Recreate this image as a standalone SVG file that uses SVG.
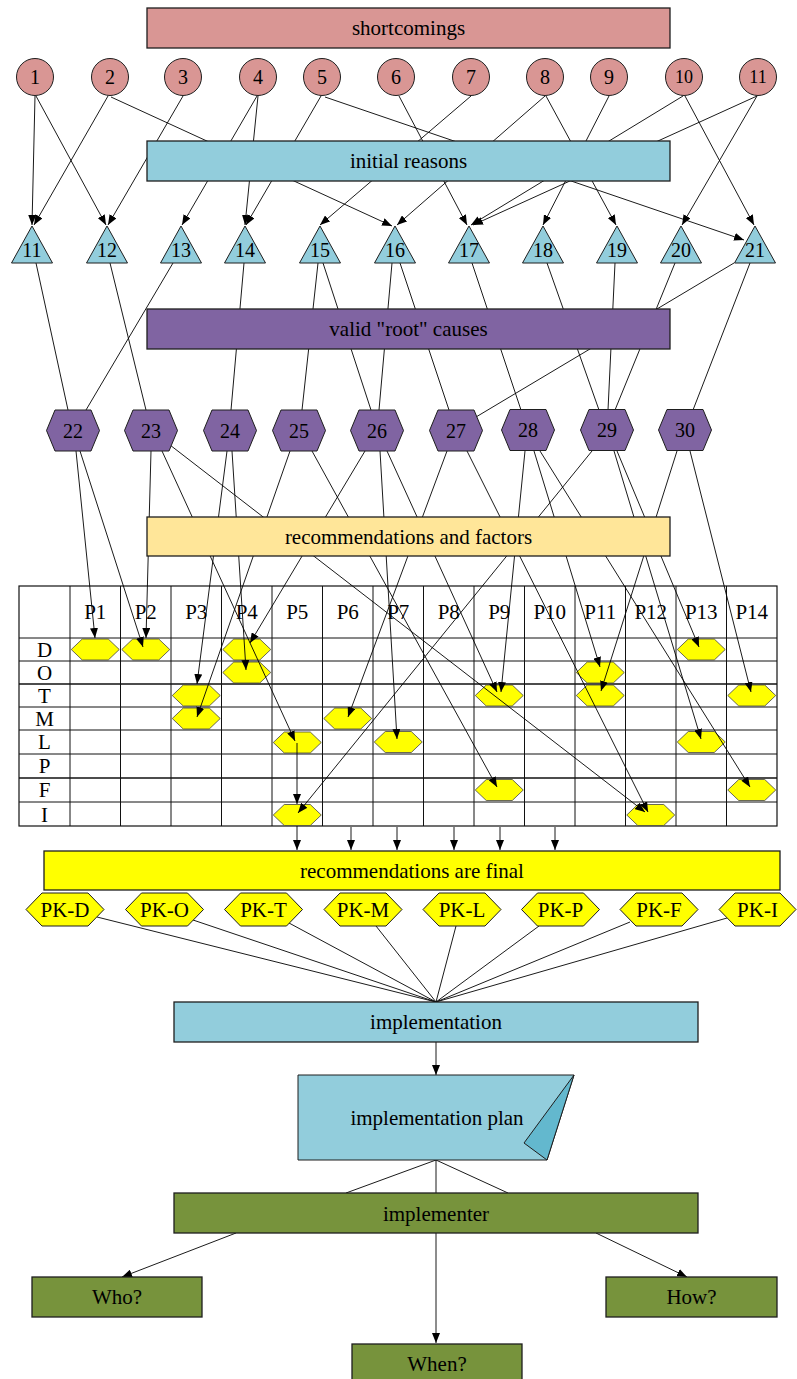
<svg xmlns="http://www.w3.org/2000/svg" width="797" height="1379" viewBox="0 0 797 1379">
<style>
text{font-family:"Liberation Serif","Times New Roman",serif;font-size:21px;fill:#000;text-anchor:middle;dominant-baseline:central}
.n{font-size:20px}
.s{font-size:18px}
.box{stroke:#1e1e1e;stroke-width:1.3}
.pink{fill:#D99694}
.blue{fill:#92CDDC}
.purple{fill:#8064A2}
.peach{fill:#FFE699}
.yellow{fill:#FFFF00}
.green{fill:#77933C}
.nd{stroke:#1e1e1e;stroke-width:1}
.cell{fill:#FFFF00;stroke:#444;stroke-width:0.8}
.grid line{stroke:#111;stroke-width:1}
.c line{stroke:#000;stroke-width:0.9;fill:none}
.c line.a{marker-end:url(#arr)}
</style>
<defs>
<marker id="arr" viewBox="0 0 10 8" refX="10" refY="4" markerWidth="10" markerHeight="8" markerUnits="userSpaceOnUse" orient="auto"><path d="M0,0 L10,4 L0,8 z" fill="#000"/></marker>
</defs>

<!-- table grid -->
<g id="table" class="grid">
<rect x="19" y="586" width="758" height="240" fill="#fff" stroke="#111" stroke-width="1.2"/>
<line x1="70" y1="586" x2="70" y2="826"/>
<line x1="120.5" y1="586" x2="120.5" y2="826"/>
<line x1="171" y1="586" x2="171" y2="826"/>
<line x1="221.5" y1="586" x2="221.5" y2="826"/>
<line x1="272" y1="586" x2="272" y2="826"/>
<line x1="322.5" y1="586" x2="322.5" y2="826"/>
<line x1="373" y1="586" x2="373" y2="826"/>
<line x1="423.5" y1="586" x2="423.5" y2="826"/>
<line x1="474" y1="586" x2="474" y2="826"/>
<line x1="524.5" y1="586" x2="524.5" y2="826"/>
<line x1="575" y1="586" x2="575" y2="826"/>
<line x1="625.5" y1="586" x2="625.5" y2="826"/>
<line x1="676" y1="586" x2="676" y2="826"/>
<line x1="726.5" y1="586" x2="726.5" y2="826"/>
<line x1="19" y1="638" x2="777" y2="638"/>
<line x1="19" y1="661" x2="777" y2="661"/>
<line x1="19" y1="684" x2="777" y2="684" style="stroke-width:1.3"/>
<line x1="19" y1="707" x2="777" y2="707"/>
<line x1="19" y1="730" x2="777" y2="730"/>
<line x1="19" y1="754" x2="777" y2="754"/>
<line x1="19" y1="778" x2="777" y2="778" style="stroke-width:1.5"/>
<line x1="19" y1="802" x2="777" y2="802"/>
<text x="95.25" y="612">P1</text>
<text x="145.75" y="612">P2</text>
<text x="196.25" y="612">P3</text>
<text x="246.75" y="612">P4</text>
<text x="297.25" y="612">P5</text>
<text x="347.75" y="612">P6</text>
<text x="398.25" y="612">P7</text>
<text x="448.75" y="612">P8</text>
<text x="499.25" y="612">P9</text>
<text x="549.75" y="612">P10</text>
<text x="600.25" y="612">P11</text>
<text x="650.75" y="612">P12</text>
<text x="701.25" y="612">P13</text>
<text x="751.75" y="612">P14</text>
<text x="44.5" y="649.5">D</text>
<text x="44.5" y="672.5">O</text>
<text x="44.5" y="695.5">T</text>
<text x="44.5" y="718.5">M</text>
<text x="44.5" y="742">L</text>
<text x="44.5" y="766">P</text>
<text x="44.5" y="790">F</text>
<text x="44.5" y="814.5">I</text>
</g>

<!-- cell hexagons -->
<g id="cells">
<polygon id="D-P1" class="cell" transform="translate(95.25,649.5)" points="-24,0 -13,-10.5 13,-10.5 24,0 13,10.5 -13,10.5"/>
<polygon id="D-P2" class="cell" transform="translate(145.75,649.5)" points="-24,0 -13,-10.5 13,-10.5 24,0 13,10.5 -13,10.5"/>
<polygon id="D-P4" class="cell" transform="translate(246.75,649.5)" points="-24,0 -13,-10.5 13,-10.5 24,0 13,10.5 -13,10.5"/>
<polygon id="D-P13" class="cell" transform="translate(701.25,649.5)" points="-24,0 -13,-10.5 13,-10.5 24,0 13,10.5 -13,10.5"/>
<polygon id="O-P4" class="cell" transform="translate(246.75,672.5)" points="-24,0 -13,-10.5 13,-10.5 24,0 13,10.5 -13,10.5"/>
<polygon id="O-P11" class="cell" transform="translate(600.25,672.5)" points="-24,0 -13,-10.5 13,-10.5 24,0 13,10.5 -13,10.5"/>
<polygon id="T-P3" class="cell" transform="translate(196.25,695.5)" points="-24,0 -13,-10.5 13,-10.5 24,0 13,10.5 -13,10.5"/>
<polygon id="T-P9" class="cell" transform="translate(499.25,695.5)" points="-24,0 -13,-10.5 13,-10.5 24,0 13,10.5 -13,10.5"/>
<polygon id="T-P11" class="cell" transform="translate(600.25,695.5)" points="-24,0 -13,-10.5 13,-10.5 24,0 13,10.5 -13,10.5"/>
<polygon id="T-P14" class="cell" transform="translate(751.75,695.5)" points="-24,0 -13,-10.5 13,-10.5 24,0 13,10.5 -13,10.5"/>
<polygon id="M-P3" class="cell" transform="translate(196.25,718.5)" points="-24,0 -13,-10.5 13,-10.5 24,0 13,10.5 -13,10.5"/>
<polygon id="M-P6" class="cell" transform="translate(347.75,718.5)" points="-24,0 -13,-10.5 13,-10.5 24,0 13,10.5 -13,10.5"/>
<polygon id="L-P5" class="cell" transform="translate(297.25,742.5)" points="-24,0 -13,-10.5 13,-10.5 24,0 13,10.5 -13,10.5"/>
<polygon id="L-P7" class="cell" transform="translate(398.25,742)" points="-24,0 -13,-10.5 13,-10.5 24,0 13,10.5 -13,10.5"/>
<polygon id="L-P13" class="cell" transform="translate(701.25,742)" points="-24,0 -13,-10.5 13,-10.5 24,0 13,10.5 -13,10.5"/>
<polygon id="F-P9" class="cell" transform="translate(499.25,790)" points="-24,0 -13,-10.5 13,-10.5 24,0 13,10.5 -13,10.5"/>
<polygon id="F-P14" class="cell" transform="translate(751.75,790)" points="-24,0 -13,-10.5 13,-10.5 24,0 13,10.5 -13,10.5"/>
<polygon id="I-P5" class="cell" transform="translate(297.25,815)" points="-24,0 -13,-10.5 13,-10.5 24,0 13,10.5 -13,10.5"/>
<polygon id="I-P12" class="cell" transform="translate(650.75,815)" points="-24,0 -13,-10.5 13,-10.5 24,0 13,10.5 -13,10.5"/>
</g>

<!-- connectors -->
<g id="connectors" class="c">
<!-- circles to triangles -->
<line class="a" x1="35" y1="96" x2="32" y2="225"/>
<line class="a" x1="36" y1="96" x2="106" y2="225"/>
<line class="a" x1="108" y1="96" x2="34" y2="225"/>
<line class="a" x1="111" y1="97" x2="392" y2="226"/>
<line class="a" x1="183" y1="96" x2="108" y2="225"/>
<line class="a" x1="257" y1="96" x2="182" y2="225"/>
<line class="a" x1="258" y1="96" x2="245" y2="225"/>
<line class="a" x1="321" y1="96" x2="246" y2="225"/>
<line class="a" x1="325" y1="97" x2="744" y2="240"/>
<line class="a" x1="399" y1="96" x2="467" y2="225"/>
<line class="a" x1="471" y1="96" x2="320" y2="225"/>
<line class="a" x1="545" y1="96" x2="397" y2="225"/>
<line class="a" x1="546" y1="96" x2="616" y2="225"/>
<line class="a" x1="609" y1="96" x2="543" y2="225"/>
<line class="a" x1="683" y1="96" x2="471" y2="225"/>
<line class="a" x1="685" y1="96" x2="754" y2="225"/>
<line class="a" x1="757" y1="96" x2="473" y2="225"/>
<line class="a" x1="757" y1="96" x2="682" y2="225"/>
<!-- triangles to hexagons -->
<line x1="36" y1="263" x2="68" y2="410"/>
<line x1="110" y1="263" x2="146" y2="410"/>
<line x1="173" y1="263" x2="86" y2="410"/>
<line x1="244" y1="263" x2="231" y2="410"/>
<line x1="318" y1="263" x2="302" y2="410"/>
<line x1="323" y1="263" x2="371" y2="410"/>
<line x1="392" y1="263" x2="379" y2="410"/>
<line x1="400" y1="263" x2="449" y2="410"/>
<line x1="472" y1="263" x2="521" y2="410"/>
<line x1="547" y1="263" x2="599" y2="410"/>
<line x1="615" y1="263" x2="608" y2="410"/>
<line x1="675" y1="263" x2="615" y2="410"/>
<line x1="734" y1="263" x2="476" y2="417"/>
<line x1="750" y1="263" x2="693" y2="410"/>
<!-- hexagons to cells -->
<line class="a" x1="76" y1="451" x2="95" y2="638"/>
<line class="a" x1="80" y1="451" x2="143" y2="647"/>
<line class="a" x1="151" y1="451" x2="146" y2="638"/>
<line class="a" x1="162" y1="451" x2="295" y2="741"/>
<line class="a" x1="170" y1="445" x2="645" y2="812"/>
<line class="a" x1="227" y1="451" x2="197" y2="684"/>
<line class="a" x1="232" y1="451" x2="246" y2="670"/>
<line class="a" x1="290" y1="451" x2="197" y2="717"/>
<line class="a" x1="312" y1="451" x2="497" y2="787"/>
<line class="a" x1="365" y1="451" x2="250" y2="643"/>
<line class="a" x1="380" y1="451" x2="397" y2="739"/>
<line class="a" x1="387" y1="451" x2="497" y2="692"/>
<line class="a" x1="447" y1="451" x2="348" y2="717"/>
<line class="a" x1="467" y1="451" x2="648" y2="812"/>
<line class="a" x1="525" y1="451" x2="501" y2="692"/>
<line class="a" x1="534" y1="451" x2="600" y2="667"/>
<line class="a" x1="540" y1="451" x2="750" y2="787"/>
<line class="a" x1="592" y1="451" x2="298" y2="813"/>
<line class="a" x1="614" y1="451" x2="701" y2="739"/>
<line class="a" x1="617" y1="451" x2="699" y2="647"/>
<line class="a" x1="677" y1="451" x2="601" y2="691"/>
<line class="a" x1="690" y1="451" x2="751" y2="692"/>
<line class="a" x1="297" y1="743" x2="297" y2="804"/>
<!-- table to final -->
<line class="a" x1="297" y1="826" x2="297" y2="850"/>
<line class="a" x1="351" y1="827" x2="351" y2="850"/>
<line class="a" x1="397" y1="827" x2="397" y2="850"/>
<line class="a" x1="454" y1="827" x2="454" y2="850"/>
<line class="a" x1="500" y1="827" x2="500" y2="850"/>
<line class="a" x1="555" y1="827" x2="555" y2="850"/>
<!-- PK to implementation -->
<line x1="97" y1="917" x2="436" y2="1002"/>
<line x1="193" y1="920" x2="436" y2="1002"/>
<line x1="289" y1="923" x2="436" y2="1002"/>
<line x1="376" y1="926" x2="436" y2="1002"/>
<line x1="456" y1="926" x2="436" y2="1002"/>
<line x1="539" y1="926" x2="436" y2="1002"/>
<line x1="630" y1="922" x2="436" y2="1002"/>
<line x1="727" y1="918" x2="436" y2="1002"/>
<!-- bottom -->
<line class="a" x1="436" y1="1042" x2="436" y2="1075"/>
<line x1="436" y1="1160" x2="346" y2="1193"/>
<line x1="436" y1="1160" x2="436" y2="1193"/>
<line x1="436" y1="1160" x2="508" y2="1193"/>
<line class="a" x1="236" y1="1233" x2="122" y2="1277"/>
<line class="a" x1="436" y1="1233" x2="436" y2="1343"/>
<line class="a" x1="596" y1="1233" x2="687" y2="1277"/>
</g>

<!-- wide boxes -->
<g id="shortcomings"><rect class="box pink" x="147" y="8" width="523" height="40"/><text x="408.5" y="28">shortcomings</text></g>
<g id="initial-reasons"><rect class="box blue" x="147" y="141" width="523" height="40"/><text x="408.5" y="161">initial reasons</text></g>
<g id="root-causes"><rect class="box purple" x="147" y="309" width="523" height="40"/><text x="408.5" y="329">valid "root" causes</text></g>
<g id="recommendations"><rect class="box peach" x="147" y="517" width="523" height="39"/><text x="408.5" y="536.5">recommendations and factors</text></g>

<!-- circles -->
<g id="c1"><circle class="nd pink" cx="35" cy="77" r="18.5"/><text class="n" x="35" y="77">1</text></g>
<g id="c2"><circle class="nd pink" cx="110" cy="77" r="18.5"/><text class="n" x="110" y="77">2</text></g>
<g id="c3"><circle class="nd pink" cx="183" cy="77" r="18.5"/><text class="n" x="183" y="77">3</text></g>
<g id="c4"><circle class="nd pink" cx="258" cy="77" r="18.5"/><text class="n" x="258" y="77">4</text></g>
<g id="c5"><circle class="nd pink" cx="322" cy="77" r="18.5"/><text class="n" x="322" y="77">5</text></g>
<g id="c6"><circle class="nd pink" cx="396" cy="77" r="18.5"/><text class="n" x="396" y="77">6</text></g>
<g id="c7"><circle class="nd pink" cx="471" cy="77" r="18.5"/><text class="n" x="471" y="77">7</text></g>
<g id="c8"><circle class="nd pink" cx="545" cy="77" r="18.5"/><text class="n" x="545" y="77">8</text></g>
<g id="c9"><circle class="nd pink" cx="609" cy="77" r="18.5"/><text class="n" x="609" y="77">9</text></g>
<g id="c10"><circle class="nd pink" cx="684" cy="77" r="18.5"/><text class="s" x="684" y="77">10</text></g>
<g id="c11"><circle class="nd pink" cx="758" cy="77" r="18.5"/><text class="s" x="758" y="77">11</text></g>

<!-- triangles -->
<g id="t11"><polygon class="nd blue" transform="translate(32,244.5)" points="0,-18.5 -20.5,18.5 20.5,18.5"/><text class="n" x="32" y="250">11</text></g>
<g id="t12"><polygon class="nd blue" transform="translate(107,244.5)" points="0,-18.5 -20.5,18.5 20.5,18.5"/><text class="n" x="107" y="250">12</text></g>
<g id="t13"><polygon class="nd blue" transform="translate(181,244.5)" points="0,-18.5 -20.5,18.5 20.5,18.5"/><text class="n" x="181" y="250">13</text></g>
<g id="t14"><polygon class="nd blue" transform="translate(245,244.5)" points="0,-18.5 -20.5,18.5 20.5,18.5"/><text class="n" x="245" y="250">14</text></g>
<g id="t15"><polygon class="nd blue" transform="translate(320,244.5)" points="0,-18.5 -20.5,18.5 20.5,18.5"/><text class="n" x="320" y="250">15</text></g>
<g id="t16"><polygon class="nd blue" transform="translate(395,244.5)" points="0,-18.5 -20.5,18.5 20.5,18.5"/><text class="n" x="395" y="250">16</text></g>
<g id="t17"><polygon class="nd blue" transform="translate(469,244.5)" points="0,-18.5 -20.5,18.5 20.5,18.5"/><text class="n" x="469" y="250">17</text></g>
<g id="t18"><polygon class="nd blue" transform="translate(543,244.5)" points="0,-18.5 -20.5,18.5 20.5,18.5"/><text class="n" x="543" y="250">18</text></g>
<g id="t19"><polygon class="nd blue" transform="translate(617,244.5)" points="0,-18.5 -20.5,18.5 20.5,18.5"/><text class="n" x="617" y="250">19</text></g>
<g id="t20"><polygon class="nd blue" transform="translate(681,244.5)" points="0,-18.5 -20.5,18.5 20.5,18.5"/><text class="n" x="681" y="250">20</text></g>
<g id="t21"><polygon class="nd blue" transform="translate(755,244.5)" points="0,-18.5 -20.5,18.5 20.5,18.5"/><text class="n" x="755" y="250">21</text></g>

<!-- purple hexagons -->
<g id="h22"><polygon class="nd purple" transform="translate(73,430.5)" points="-26.5,0 -18,-20.5 18,-20.5 26.5,0 18,20.5 -18,20.5"/><text class="n" x="73" y="430.5">22</text></g>
<g id="h23"><polygon class="nd purple" transform="translate(151,430.5)" points="-26.5,0 -18,-20.5 18,-20.5 26.5,0 18,20.5 -18,20.5"/><text class="n" x="151" y="430.5">23</text></g>
<g id="h24"><polygon class="nd purple" transform="translate(230,430.5)" points="-26.5,0 -18,-20.5 18,-20.5 26.5,0 18,20.5 -18,20.5"/><text class="n" x="230" y="430.5">24</text></g>
<g id="h25"><polygon class="nd purple" transform="translate(299,430.5)" points="-26.5,0 -18,-20.5 18,-20.5 26.5,0 18,20.5 -18,20.5"/><text class="n" x="299" y="430.5">25</text></g>
<g id="h26"><polygon class="nd purple" transform="translate(377,430.5)" points="-26.5,0 -18,-20.5 18,-20.5 26.5,0 18,20.5 -18,20.5"/><text class="n" x="377" y="430.5">26</text></g>
<g id="h27"><polygon class="nd purple" transform="translate(456,430.5)" points="-26.5,0 -18,-20.5 18,-20.5 26.5,0 18,20.5 -18,20.5"/><text class="n" x="456" y="430.5">27</text></g>
<g id="h28"><polygon class="nd purple" transform="translate(528,430)" points="-26.5,0 -18,-20.5 18,-20.5 26.5,0 18,20.5 -18,20.5"/><text class="n" x="528" y="430">28</text></g>
<g id="h29"><polygon class="nd purple" transform="translate(607,430)" points="-26.5,0 -18,-20.5 18,-20.5 26.5,0 18,20.5 -18,20.5"/><text class="n" x="607" y="430">29</text></g>
<g id="h30"><polygon class="nd purple" transform="translate(685,430)" points="-26.5,0 -18,-20.5 18,-20.5 26.5,0 18,20.5 -18,20.5"/><text class="n" x="685" y="430">30</text></g>

<!-- final -->
<g id="final"><rect class="box yellow" x="44" y="851" width="736" height="39"/><text x="412" y="870.5">recommendations are final</text></g>

<!-- PK hexagons -->
<g id="pk-d"><polygon class="nd yellow" transform="translate(65,909.5)" points="-39,0 -23,-16.5 23,-16.5 39,0 23,16.5 -23,16.5"/><text x="65" y="909.5">PK-D</text></g>
<g id="pk-o"><polygon class="nd yellow" transform="translate(164.5,909.5)" points="-39,0 -23,-16.5 23,-16.5 39,0 23,16.5 -23,16.5"/><text x="164.5" y="909.5">PK-O</text></g>
<g id="pk-t"><polygon class="nd yellow" transform="translate(263.5,909.5)" points="-39,0 -23,-16.5 23,-16.5 39,0 23,16.5 -23,16.5"/><text x="263.5" y="909.5">PK-T</text></g>
<g id="pk-m"><polygon class="nd yellow" transform="translate(363,909.5)" points="-39,0 -23,-16.5 23,-16.5 39,0 23,16.5 -23,16.5"/><text x="363" y="909.5">PK-M</text></g>
<g id="pk-l"><polygon class="nd yellow" transform="translate(462,909.5)" points="-39,0 -23,-16.5 23,-16.5 39,0 23,16.5 -23,16.5"/><text x="462" y="909.5">PK-L</text></g>
<g id="pk-p"><polygon class="nd yellow" transform="translate(560.5,909.5)" points="-39,0 -23,-16.5 23,-16.5 39,0 23,16.5 -23,16.5"/><text x="560.5" y="909.5">PK-P</text></g>
<g id="pk-f"><polygon class="nd yellow" transform="translate(659,909.5)" points="-39,0 -23,-16.5 23,-16.5 39,0 23,16.5 -23,16.5"/><text x="659" y="909.5">PK-F</text></g>
<g id="pk-i"><polygon class="nd yellow" transform="translate(757.5,909.5)" points="-38.5,0 -22.5,-16.5 22.5,-16.5 38.5,0 22.5,16.5 -22.5,16.5"/><text x="757.5" y="909.5">PK-I</text></g>

<!-- implementation chain -->
<g id="implementation"><rect class="box blue" x="174" y="1002" width="524" height="40"/><text x="436" y="1022">implementation</text></g>
<g id="implementation-plan">
<polygon class="nd blue" points="298,1075 574,1075 547,1160 298,1160"/>
<polygon class="nd" fill="#63B8CE" points="574,1075 524,1143 547,1160"/>
<text x="437" y="1118">implementation plan</text>
</g>
<g id="implementer"><rect class="box green" x="174" y="1193" width="524" height="40"/><text x="436" y="1214">implementer</text></g>
<g id="who"><rect class="box green" x="32" y="1277" width="170" height="40"/><text x="117" y="1297">Who?</text></g>
<g id="how"><rect class="box green" x="606" y="1277" width="171" height="40"/><text x="691.5" y="1297">How?</text></g>
<g id="when"><rect class="box green" x="352" y="1344" width="170" height="40"/><text x="437" y="1364">When?</text></g>
</svg>
